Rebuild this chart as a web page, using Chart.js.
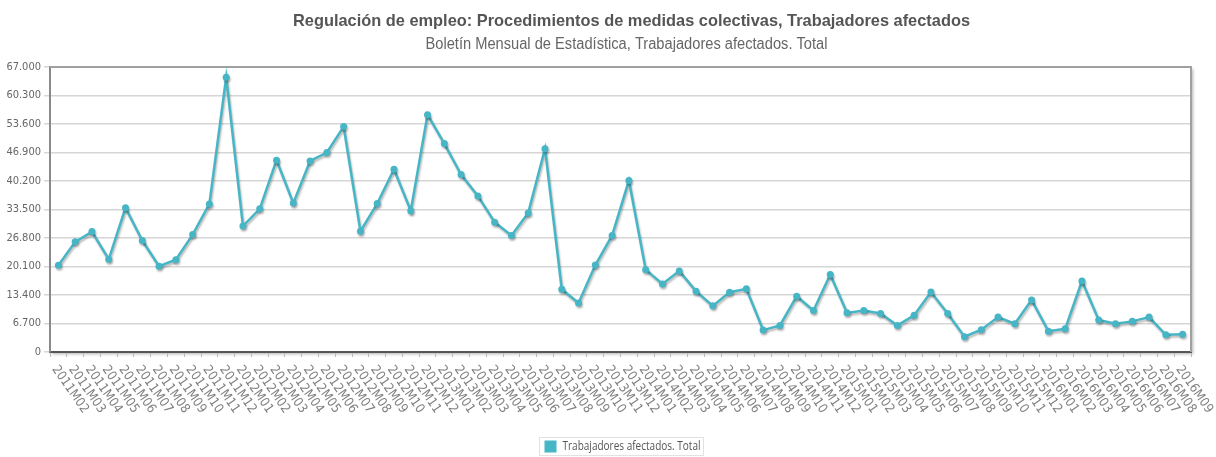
<!DOCTYPE html>
<html>
<head>
<meta charset="utf-8">
<script src="https://cdn.jsdelivr.net/npm/chart.js@4.4.0/dist/chart.umd.min.js"></script>
<style>
  html, body { margin: 0; padding: 0; background: #fff; }
  #wrap { width: 1216px; height: 457px; }
</style>
</head>
<body>
<div id="wrap"><canvas id="myChart" width="1216" height="457"></canvas></div>
<script>
const periodos = [
  "2011M02", "2011M03", "2011M04", "2011M05", "2011M06", "2011M07", "2011M08", "2011M09", "2011M10", "2011M11", "2011M12",
  "2012M01", "2012M02", "2012M03", "2012M04", "2012M05", "2012M06", "2012M07", "2012M08", "2012M09", "2012M10", "2012M11", "2012M12",
  "2013M01", "2013M02", "2013M03", "2013M04", "2013M05", "2013M06", "2013M07", "2013M08", "2013M09", "2013M10", "2013M11", "2013M12",
  "2014M01", "2014M02", "2014M03", "2014M04", "2014M05", "2014M06", "2014M07", "2014M08", "2014M09", "2014M10", "2014M11", "2014M12",
  "2015M01", "2015M02", "2015M03", "2015M04", "2015M05", "2015M06", "2015M07", "2015M08", "2015M09", "2015M10", "2015M11", "2015M12",
  "2016M01", "2016M02", "2016M03", "2016M04", "2016M05", "2016M06", "2016M07", "2016M08", "2016M09"
];

const trabajadores = [
  20400, 25900, 28300, 21800, 33900, 26200, 20150, 21700, 27600, 34800, 64600,
  29600, 33650, 45100, 35000, 44900, 46900, 53000, 28400, 34900, 42950, 33200,
  55800, 49000, 41700, 36700, 30500, 27400, 32700, 47800, 14750, 11500, 20450, 27400, 40300,
  19350, 16000, 19050, 14300, 10850, 14050, 14850, 5150, 6250, 13100, 9750,
  18200, 9200, 9750, 9050, 6250, 8650, 14100, 9050, 3600, 5250, 8200, 6650,
  12250, 4900, 5450, 16700, 7550, 6650, 7200, 8200, 4050, 4200
];

const ticksY = [0, 6700, 13400, 20100, 26800, 33500, 40200, 46900, 53600, 60300, 67000];

const titulo = "Regulación de empleo: Procedimientos de medidas colectivas, Trabajadores afectados";
const subtitulo = "Boletín Mensual de Estadística, Trabajadores afectados. Total";
const nombreSerie = "Trabajadores afectados. Total";

const colorLinea = "#46b6c7";
const fuenteTexto = "'DejaVu Sans Condensed', 'DejaVu Sans', sans-serif";

function formatoMiles(v) {
  return String(v).replace(/\B(?=(\d{3})+(?!\d))/g, ".");
}

// texto estrecho: se comprime en horizontal hasta el ancho pedido
function textoEstrecho(ctx, texto, x, cy, font, ancho, color, align) {
  ctx.save();
  ctx.font = font;
  ctx.fillStyle = color;
  ctx.textAlign = align || "center";
  ctx.textBaseline = "middle";
  const w = ctx.measureText(texto).width;
  ctx.translate(x, cy);
  ctx.scale(ancho / w, 1);
  ctx.fillText(texto, 0, 0);
  ctx.restore();
}

const decoracion = {
  id: "decoracion",
  beforeDatasetsDraw(chart) {
    const ctx = chart.ctx;
    ctx.save();
    ctx.shadowColor = "rgba(0,0,0,0.28)";
    ctx.shadowOffsetX = 1;
    ctx.shadowOffsetY = 2;
    ctx.shadowBlur = 2;
  },
  afterDatasetsDraw(chart) {
    chart.ctx.restore();
  },
  beforeDraw(chart) {
    const { ctx, chartArea: a } = chart;
    ctx.save();
    ctx.shadowColor = "rgba(0,0,0,0.3)";
    ctx.shadowOffsetX = 2;
    ctx.shadowOffsetY = 2;
    ctx.shadowBlur = 3;
    ctx.fillStyle = "#fff";
    ctx.fillRect(a.left, a.top, a.right - a.left, a.bottom - a.top);
    ctx.restore();
  },
  afterDraw(chart) {
    const { ctx, chartArea: a } = chart;
    const centro = (a.left + a.right) / 2;

    // titulos
    textoEstrecho(ctx, titulo, centro + 11, 21.5, "bold 17px 'Liberation Sans', sans-serif", 677, "#555555");
    textoEstrecho(ctx, subtitulo, centro + 6, 45, "16px 'Liberation Sans', sans-serif", 402, "#666666");

    ctx.save();
    // marco superior y derecho
    ctx.strokeStyle = "#a0a0a0";
    ctx.lineWidth = 2;
    ctx.beginPath();
    ctx.moveTo(a.left, a.top);
    ctx.lineTo(a.right, a.top);
    ctx.lineTo(a.right, a.bottom);
    ctx.stroke();

    // etiquetas del eje x, giradas hacia abajo
    const xs = chart.scales.x;
    ctx.fillStyle = "#808080";
    ctx.font = "13px " + fuenteTexto;
    ctx.textAlign = "left";
    ctx.textBaseline = "middle";
    periodos.forEach((p, i) => {
      const x = xs.getPixelForTick(i);
      ctx.save();
      ctx.translate(x - 4, a.bottom + 15);
      ctx.rotate(55 * Math.PI / 180);
      ctx.fillText(p, 0, 0);
      ctx.restore();
    });

    // leyenda
    const wTexto = 138;
    const anchoCaja = 5 + 12 + 6 + wTexto + 3;
    const x0 = Math.round(centro - anchoCaja / 2) + 0.5;
    const y0 = 437.5;
    ctx.strokeStyle = "#e2e2e2";
    ctx.lineWidth = 1;
    ctx.strokeRect(x0, y0, anchoCaja, 18);
    ctx.fillStyle = colorLinea;
    ctx.fillRect(x0 + 5, y0 + 3, 12, 12);
    ctx.restore();
    textoEstrecho(ctx, nombreSerie, x0 + 23, y0 + 9.5, "12px 'Open Sans', sans-serif", wTexto, "#555555", "left");
  }
};

const grafica = document.getElementById("myChart").getContext("2d");

new Chart(grafica, {
  type: "line",
  data: {
    labels: periodos,
    datasets: [
      {
        label: nombreSerie,
        data: trabajadores,
        borderColor: colorLinea,
        backgroundColor: colorLinea,
        borderWidth: 2.5,
        pointRadius: 3.5,
        pointBackgroundColor: colorLinea,
        pointBorderColor: colorLinea,
        pointBorderWidth: 0,
        tension: 0,
        fill: false,
      },
    ],
  },
  options: {
    responsive: false,
    animation: false,
    layout: { padding: { left: 0, right: 25, top: 67, bottom: 0 } },
    plugins: {
      title: { display: false },
      legend: { display: false },
      tooltip: { enabled: false },
    },
    scales: {
      x: {
        offset: true,
        grid: {
          display: true,
          drawOnChartArea: false,
          tickLength: 5,
          color: "#bbbbbb",
          offset: true,
        },
        border: { display: true, color: "#555555", width: 2 },
        ticks: { display: false },
        afterFit(scale) { scale.height = 105; },
      },
      y: {
        min: 0,
        max: 67000,
        afterBuildTicks(scale) {
          scale.ticks = ticksY.map((v) => ({ value: v }));
        },
        afterFit(scale) { scale.width = 50; },
        grid: {
          color: "#d6d6d6",
          lineWidth: 1.5,
          tickLength: 6,
        },
        border: { display: true, color: "#8a8a8a", width: 2 },
        ticks: {
          color: "#666666",
          padding: 3,
          font: { family: fuenteTexto, size: 11 },
          callback: (v) => formatoMiles(v),
        },
      },
    },
  },
  plugins: [decoracion],
});
</script>
</body>
</html>
